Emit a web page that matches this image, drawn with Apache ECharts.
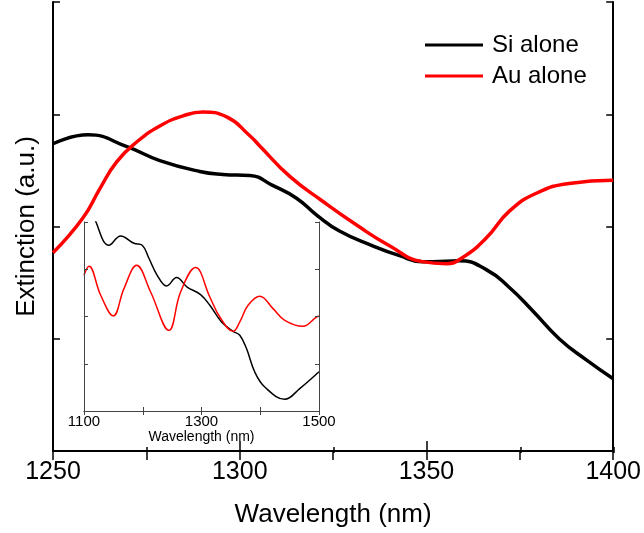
<!DOCTYPE html>
<html>
<head>
<meta charset="utf-8">
<script src="https://cdn.jsdelivr.net/npm/echarts@6/dist/echarts.min.js"></script>
<style>html,body{margin:0;padding:0;background:#fff;}#c{width:644px;height:533px;}</style>
</head>
<body>
<div id="c"></div>
<script>
// Main panel: wavelength (nm) and extinction (a.u.)
var siMainX = [1250, 1259.4, 1269.8, 1278.6, 1289.3, 1295.5, 1302.7, 1308.8, 1315.2, 1320.6, 1326.7, 1335.6, 1342.8, 1348.9, 1351.6, 1358.8, 1366.0, 1372.2, 1378.3, 1385.6, 1392.8, 1400];
var siMainY = [2.737, 2.817, 2.711, 2.587, 2.490, 2.464, 2.455, 2.366, 2.252, 2.102, 1.960, 1.828, 1.740, 1.687, 1.687, 1.695, 1.616, 1.457, 1.254, 0.998, 0.812, 0.644];
var auMainX = [1250, 1258.0, 1262.6, 1267.1, 1272.5, 1278.6, 1284.8, 1290.1, 1296.5, 1302.7, 1305.3, 1313.4, 1322.2, 1331.3, 1340.1, 1348.9, 1355.3, 1359.6, 1366.0, 1372.2, 1379.4, 1388.2, 1400];
var auMainY = [1.766, 2.075, 2.340, 2.578, 2.755, 2.896, 2.985, 3.020, 2.976, 2.808, 2.720, 2.446, 2.225, 2.013, 1.828, 1.687, 1.669, 1.722, 1.898, 2.137, 2.296, 2.384, 2.411];
// Inset panel
var siInsetX = [1112, 1120.4, 1142.5, 1162.4, 1185, 1199.1, 1210.5, 1224.6, 1240.6, 1257.6, 1275.6, 1298.4, 1314.2, 1334.1, 1353.8, 1365.2, 1376.6, 1390.7, 1407.7, 1441.7, 1467.2, 1500];
var siInsetY = [4.4, 4.0, 3.507, 3.704, 3.549, 3.507, 3.232, 2.872, 2.646, 2.823, 2.624, 2.463, 2.237, 1.884, 1.687, 1.602, 1.321, 0.825, 0.508, 0.248, 0.474, 0.83];
var auInsetX = [1100, 1108.5, 1128.4, 1149.8, 1168, 1189.6, 1213.4, 1244.5, 1264.4, 1289.9, 1314.2, 1331.2, 1353.8, 1365.2, 1379.3, 1399.2, 1421.8, 1441.7, 1472.8, 1495.6, 1500];
var auInsetY = [2.872, 3.062, 2.449, 2.011, 2.590, 3.084, 2.519, 1.708, 2.519, 3.035, 2.413, 1.989, 1.687, 1.884, 2.237, 2.428, 2.167, 1.920, 1.793, 1.989, 2.004];
var mainTicks = [1250, 1300, 1350, 1400];
var insetTicks = [1100, 1300, 1500];
var seriesNames = ['Si alone', 'Au alone'];

function pairs(xs, ys) { return xs.map(function (x, i) { return [x, ys[i]]; }); }

var FONT = '"Liberation Sans", Arial, sans-serif';
var chart = echarts.init(document.getElementById('c'), null, {renderer: 'canvas'});

var mainLine = {show: true, lineStyle: {color: '#000', width: 2}};
var insetLine = {show: true, lineStyle: {color: '#444', width: 1}};
var noLabel = {show: false};

var option = {
  backgroundColor: '#fff',
  animation: false,
  legend: {
    data: seriesNames,
    orient: 'vertical',
    left: 420, top: 28,
    icon: 'rect',
    itemWidth: 58, itemHeight: 3,
    itemGap: 7,
    textStyle: {fontFamily: FONT, fontSize: 24, color: '#000', lineHeight: 24, padding: [0, 0, 0, 4]}
  },
  grid: [
    {left: 53, right: 30, top: 2, bottom: 80},
    {left: 84, top: 222, width: 235, height: 189, show: true, backgroundColor: '#fff', borderWidth: 0, z: 5},
    {left: 53, right: 30, top: 2, bottom: 80}
  ],
  xAxis: [
    {gridIndex: 0, type: 'value', min: 1250, max: 1400, interval: 50, position: 'bottom',
     axisLine: mainLine, splitLine: {show: false},
     axisTick: {show: true, inside: false, length: -10, lineStyle: {color: '#000', width: 1.5}},
     axisLabel: {fontFamily: FONT, fontSize: 25, color: '#000', margin: 9,
       formatter: function (v) { return mainTicks.indexOf(v) >= 0 ? String(v) : ''; }},
     name: 'Wavelength (nm)', nameLocation: 'middle', nameGap: 51,
     nameTextStyle: {fontFamily: FONT, fontSize: 26, color: '#000'}},
    {gridIndex: 0, type: 'value', min: 1250, max: 1400, interval: 25, position: 'top',
     axisLine: mainLine, splitLine: {show: false},
     axisTick: {show: true, inside: false, length: -9, lineStyle: {color: '#000', width: 1.5}},
     axisLabel: noLabel},
    {gridIndex: 2, type: 'value', min: 1250, max: 1400, interval: 25, position: 'bottom',
     axisLine: {show: false}, splitLine: {show: false},
     axisTick: {show: true, inside: false, length: -6, lineStyle: {color: '#000', width: 1.5}},
     axisLabel: noLabel},
    {gridIndex: 1, type: 'value', min: 1100, max: 1500, interval: 100, position: 'bottom', z: 7,
     axisLine: insetLine, splitLine: {show: false},
     axisTick: {show: true, inside: false, length: -4, lineStyle: {color: '#444'}},
     axisLabel: {fontFamily: FONT, fontSize: 15, color: '#000', margin: 3, showMinLabel: true, showMaxLabel: true,
       formatter: function (v) { return insetTicks.indexOf(v) >= 0 ? String(v) : ''; }},
     name: 'Wavelength (nm)', nameLocation: 'middle', nameGap: 19,
     nameTextStyle: {fontFamily: FONT, fontSize: 14, color: '#000'}},
    {gridIndex: 1, type: 'value', min: 1100, max: 1500, interval: 100, position: 'top', z: 7,
     axisLine: insetLine, splitLine: {show: false},
     axisTick: {show: true, inside: false, length: -4, lineStyle: {color: '#444'}},
     axisLabel: noLabel}
  ],
  yAxis: [
    {gridIndex: 0, type: 'value', min: 0, max: 4, interval: 1, position: 'left',
     axisLine: mainLine, splitLine: {show: false},
     axisTick: {show: true, inside: true, length: 7, lineStyle: {color: '#000', width: 1.5}},
     axisLabel: noLabel,
     name: 'Extinction (a.u.)', nameLocation: 'middle', nameGap: 13,
     nameTextStyle: {fontFamily: FONT, fontSize: 26, color: '#000'}},
    {gridIndex: 0, type: 'value', min: 0, max: 4, interval: 1, position: 'right',
     axisLine: mainLine, splitLine: {show: false},
     axisTick: {show: true, inside: true, length: 7, lineStyle: {color: '#000', width: 1.5}},
     axisLabel: noLabel},
    {gridIndex: 1, type: 'value', min: 0, max: 4, interval: 1, position: 'left', z: 7,
     axisLine: insetLine, splitLine: {show: false},
     axisTick: {show: true, inside: true, length: 4, lineStyle: {color: '#444'}},
     axisLabel: noLabel},
    {gridIndex: 1, type: 'value', min: 0, max: 4, interval: 1, position: 'right', z: 7,
     axisLine: insetLine, splitLine: {show: false},
     axisTick: {show: true, inside: true, length: 4, lineStyle: {color: '#444'}},
     axisLabel: noLabel},
    {gridIndex: 2, type: 'value', min: 0, max: 4, show: false}
  ],
  series: [
    {name: seriesNames[0], type: 'line', xAxisIndex: 0, yAxisIndex: 0, data: pairs(siMainX, siMainY),
     smooth: 0.5, showSymbol: false, color: '#000', lineStyle: {color: '#000', width: 3.5}, z: 2},
    {name: seriesNames[1], type: 'line', xAxisIndex: 0, yAxisIndex: 0, data: pairs(auMainX, auMainY),
     smooth: 0.5, showSymbol: false, color: '#ff0000', lineStyle: {color: '#ff0000', width: 3.5}, z: 2},
    {name: 'si-inset', type: 'line', xAxisIndex: 3, yAxisIndex: 2, data: pairs(siInsetX, siInsetY),
     smooth: 0.4, showSymbol: false, clip: true, lineStyle: {color: '#000', width: 1.5}, z: 6},
    {name: 'au-inset', type: 'line', xAxisIndex: 3, yAxisIndex: 2, data: pairs(auInsetX, auInsetY),
     smooth: 0.4, showSymbol: false, clip: true, lineStyle: {color: '#ff0000', width: 1.5}, z: 6}
  ]
};
chart.setOption(option);
</script>
</body>
</html>
